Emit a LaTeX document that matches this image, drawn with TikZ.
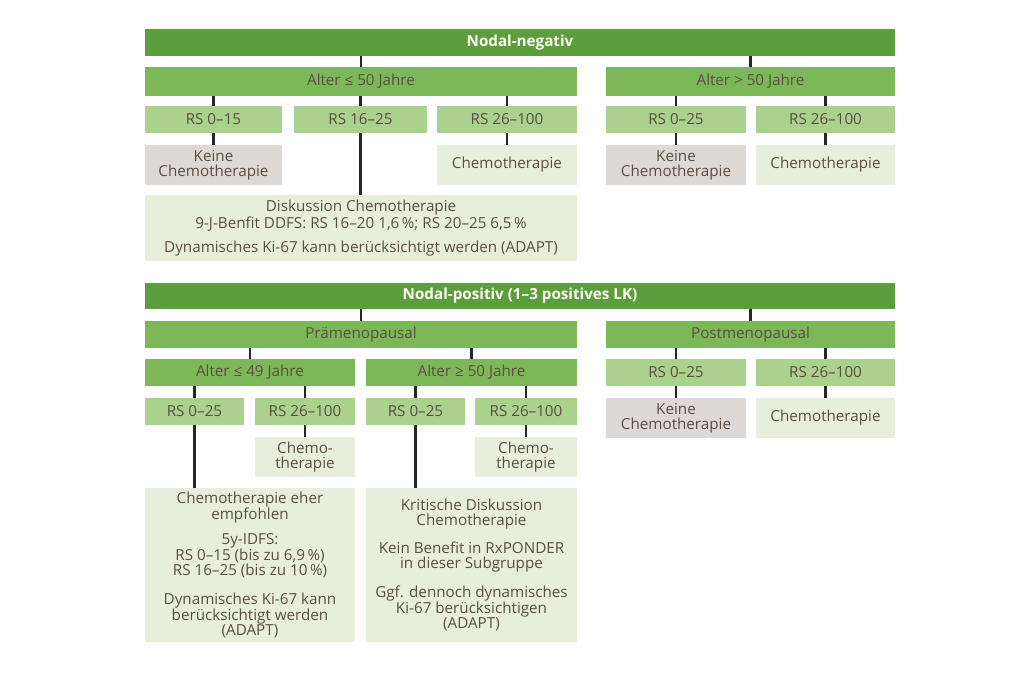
\documentclass[tikz,border=0pt]{standalone}
\usepackage{fontspec}
\setmainfont{Open Sans}
\usepackage{tikz}
\usetikzlibrary{positioning}
\definecolor{hdrgreen}{RGB}{92,158,62}
\definecolor{midgreen}{RGB}{124,184,88}
\definecolor{rsgreen}{RGB}{170,209,142}
\definecolor{palegreen}{RGB}{231,239,220}
\definecolor{greybox}{RGB}{221,217,214}
\definecolor{txtbrown}{RGB}{92,78,64}
\tikzset{
  box/.style={inner sep=0pt, outer sep=0pt, align=center, text=txtbrown,
    font=\fontsize{15.2}{15}\selectfont},
  hdr/.style={box, fill=hdrgreen, text=white!95!yellow, font=\fontsize{15.2}{15}\selectfont\bfseries},
  agebox/.style={box, fill=midgreen},
  rsbox/.style={box, fill=rsgreen},
  chemobox/.style={box, fill=palegreen},
  nochemo/.style={box, fill=greybox},
  conn/.style={line width=2.2pt, black!85}
}
\begin{document}
\begin{tikzpicture}[x=1pt,y=-1pt]
  \useasboundingbox (0,0) rectangle (1024,675);
  % nodal-negativ
  \node[hdr, minimum width=750pt, minimum height=27pt] (neg) at (520,42.5) {Nodal-negativ};
  \node[agebox, minimum width=432pt, minimum height=29pt] (a50) at (361,81.5) {Alter ≤ 50 Jahre};
  \node[agebox, minimum width=289pt, minimum height=29pt] (b50) at (750.5,81.5) {Alter > 50 Jahre};
  \node[rsbox, minimum width=137pt, minimum height=27pt] (rs1) at (213.5,119.5) {RS 0–15};
  \node[rsbox, minimum width=133pt, minimum height=27pt] (rs2) at (360.5,119.5) {RS 16–25};
  \node[rsbox, minimum width=140pt, minimum height=27pt] (rs3) at (507,119.5) {RS 26–100};
  \node[rsbox, minimum width=140pt, minimum height=27pt] (rs4) at (676,119.5) {RS 0–25};
  \node[rsbox, minimum width=139pt, minimum height=27pt] (rs5) at (825.5,119.5) {RS 26–100};
  \node[nochemo, minimum width=137pt, minimum height=40pt] (keine1) at (213.5,165) {Keine\\Chemotherapie};
  \node[chemobox, minimum width=140pt, minimum height=40pt] (chemo1) at (507,165) {Chemotherapie};
  \node[nochemo, minimum width=140pt, minimum height=40pt] (keine2) at (676,165) {Keine\\Chemotherapie};
  \node[chemobox, minimum width=139pt, minimum height=40pt] (chemo2) at (825.5,165) {Chemotherapie};
  \node[chemobox, minimum width=432pt, minimum height=66pt] (disk) at (361,228)
    {Diskussion Chemotherapie\\9-J-Benfit DDFS: RS 16–20 1,6\,\%; RS 20–25 6,5\,\%\\[9pt]
     Dynamisches Ki-67 kann berücksichtigt werden (ADAPT)};
  % nodal-positiv
  \node[hdr, minimum width=750pt, minimum height=26pt] (pos) at (520,296) {Nodal-positiv (1–3 positives LK)};
  \node[agebox, minimum width=432pt, minimum height=27pt] (prae) at (361,334.5) {Prämenopausal};
  \node[agebox, minimum width=289pt, minimum height=27pt] (post) at (750.5,334.5) {Postmenopausal};
  \node[agebox, minimum width=210pt, minimum height=27pt] (a49) at (250,372.5) {Alter ≤ 49 Jahre};
  \node[agebox, minimum width=211pt, minimum height=27pt] (g50) at (471.5,372.5) {Alter ≥ 50 Jahre};
  \node[rsbox, minimum width=99pt, minimum height=27pt] (p1) at (194.5,411.5) {RS 0–25};
  \node[rsbox, minimum width=100pt, minimum height=27pt] (p2) at (305,411.5) {RS 26–100};
  \node[rsbox, minimum width=99pt, minimum height=27pt] (p3) at (415.5,411.5) {RS 0–25};
  \node[rsbox, minimum width=102pt, minimum height=27pt] (p4) at (526,411.5) {RS 26–100};
  \node[rsbox, minimum width=140pt, minimum height=27pt] (p5) at (676,372.5) {RS 0–25};
  \node[rsbox, minimum width=139pt, minimum height=27pt] (p6) at (825.5,372.5) {RS 26–100};
  \node[chemobox, minimum width=100pt, minimum height=40pt] (pchemo2) at (305,457) {Chemo-\\therapie};
  \node[chemobox, minimum width=102pt, minimum height=40pt] (pchemo4) at (526,457) {Chemo-\\therapie};
  \node[nochemo, minimum width=140pt, minimum height=40pt] (pkeine) at (676,418) {Keine\\Chemotherapie};
  \node[chemobox, minimum width=139pt, minimum height=40pt] (pchemo6) at (825.5,418) {Chemotherapie};
  \node[chemobox, minimum width=210pt, minimum height=154pt] (txt1) at (250,565)
    {Chemotherapie eher\\empfohlen\\[10pt]
     5y-IDFS:\\RS 0–15 (bis zu 6,9\,\%)\\RS 16–25 (bis zu 10\,\%)\\[14pt]
     Dynamisches Ki-67 kann\\berücksichtigt werden\\(ADAPT)};
  \node[chemobox, minimum width=211pt, minimum height=154pt] (txt2) at (471.5,565)
    {Kritische Diskussion\\Chemotherapie\\[12pt]
     Kein Benefit in RxPONDER\\in dieser Subgruppe\\[13pt]
     Ggf. dennoch dynamisches\\Ki-67 berücksichtigen\\(ADAPT)};
  % connectors
  \foreach \a/\b in {neg/a50, neg/b50, a50/rs1, a50/rs2, a50/rs3, b50/rs4, b50/rs5,
      rs1/keine1, rs3/chemo1, rs4/keine2, rs5/chemo2,
      pos/prae, pos/post, prae/a49, prae/g50, a49/p1, a49/p2, g50/p3, g50/p4,
      post/p5, post/p6, p2/pchemo2, p4/pchemo4, p5/pkeine, p6/pchemo6}
    \draw[conn] (\b.north |- \a.south) -- (\b.north);
  \foreach \a/\b in {rs2/disk, p1/txt1, p3/txt2}
    \draw[conn] (\a.south) -- (\a.south |- \b.north);
\end{tikzpicture}
\end{document}
